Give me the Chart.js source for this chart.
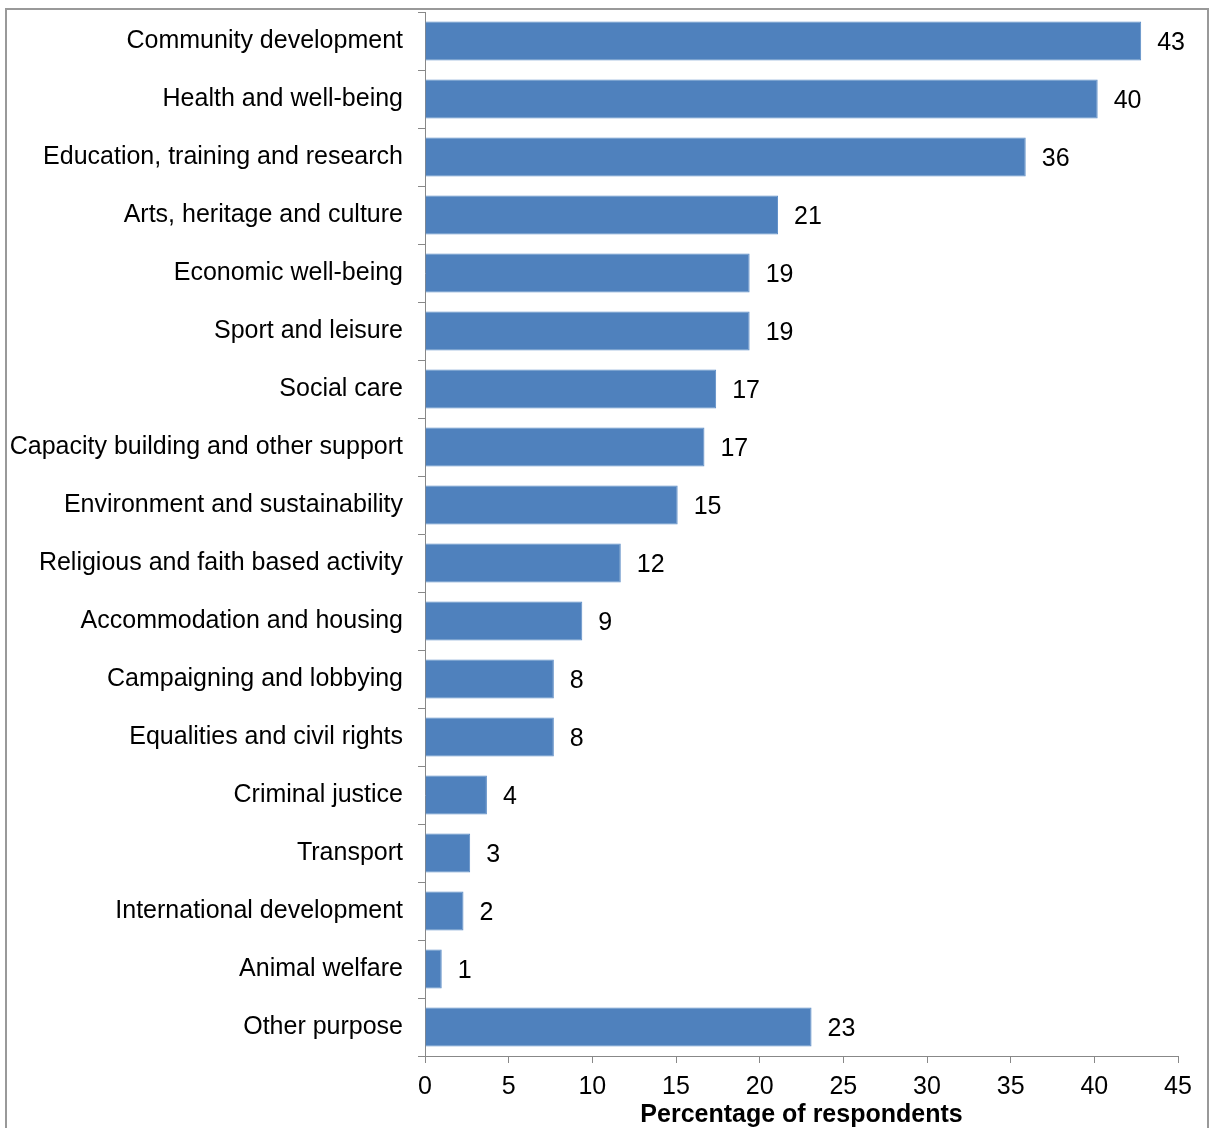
<!DOCTYPE html>
<html>
<head>
<meta charset="utf-8">
<script src="https://cdn.jsdelivr.net/npm/chart.js@4"></script>
<style>
  body { margin: 0; background: #fff; }
  #wrap { position: relative; width: 1213px; height: 1128px; overflow: hidden; }
  #frame { position: absolute; left: 5px; top: 8px; width: 1200px; height: 1200px; border: 2px solid #999; pointer-events: none; }
  canvas { position: absolute; left: 0; top: 0; }
</style>
</head>
<body>
<div id="wrap">
  <canvas id="purposeChart" width="1213" height="1128"></canvas>
  <div id="frame"></div>
</div>
<script>
const categories = [
  "Community development",
  "Health and well-being",
  "Education, training and research",
  "Arts, heritage and culture",
  "Economic well-being",
  "Sport and leisure",
  "Social care",
  "Capacity building and other support",
  "Environment and sustainability",
  "Religious and faith based activity",
  "Accommodation and housing",
  "Campaigning and lobbying",
  "Equalities and civil rights",
  "Criminal justice",
  "Transport",
  "International development",
  "Animal welfare",
  "Other purpose"
];
const percentages = [42.8, 40.2, 35.9, 21.1, 19.4, 19.4, 17.4, 16.7, 15.1, 11.7, 9.4, 7.7, 7.7, 3.7, 2.7, 2.3, 1.0, 23.1];
const xTicks = [0, 5, 10, 15, 20, 25, 30, 35, 40, 45];

const fontFamily = "'Liberation Sans', Arial, sans-serif";

// value labels to the right of each bar
const barLabels = {
  id: "barLabels",
  afterDatasetsDraw(chart) {
    const ctx = chart.ctx;
    const meta = chart.getDatasetMeta(0);
    ctx.save();
    ctx.font = "25px " + fontFamily;
    ctx.fillStyle = "#000";
    ctx.textAlign = "left";
    ctx.textBaseline = "middle";
    meta.data.forEach((bar, i) => {
      ctx.fillText(String(Math.round(percentages[i])), bar.x + 16, bar.y + 2);
    });
    ctx.restore();
  }
};

new Chart(document.getElementById("purposeChart").getContext("2d"), {
  type: "bar",
  data: {
    labels: categories,
    datasets: [{
      data: percentages,
      backgroundColor: "#4F81BD",
      borderColor: "#5B8CC6",
      borderWidth: 1,
      barPercentage: 0.67,
      categoryPercentage: 1
    }]
  },
  options: {
    indexAxis: "y",
    responsive: false,
    animation: false,
    layout: { padding: { top: 12, right: 35, left: 0, bottom: 0 } },
    plugins: {
      legend: { display: false },
      tooltip: { enabled: false }
    },
    scales: {
      x: {
        min: 0,
        max: 45,
        afterBuildTicks(scale) {
          scale.ticks = xTicks.map(v => ({ value: v }));
        },
        afterFit(scale) { scale.height = 72; },
        grid: {
          drawOnChartArea: false,
          drawTicks: true,
          tickLength: 7,
          color: "#888"
        },
        border: { display: true, color: "#888", width: 1 },
        ticks: {
          color: "#000",
          padding: 9,
          font: { family: fontFamily, size: 25 }
        },
        title: {
          display: true,
          text: "Percentage of respondents",
          color: "#000",
          padding: { top: 0, bottom: 0 },
          font: { family: fontFamily, size: 25, weight: "bold", lineHeight: 1 }
        }
      },
      y: {
        afterFit(scale) {
          scale.width = 425;
          scale.paddingTop = 0;
          scale.paddingBottom = 0;
        },
        grid: {
          offset: true,
          drawOnChartArea: false,
          drawTicks: true,
          tickLength: 7,
          color: "#888"
        },
        border: { display: true, color: "#888", width: 1 },
        ticks: {
          color: "#000",
          padding: 15,
          font: { family: fontFamily, size: 25 }
        }
      }
    }
  },
  plugins: [barLabels]
});
</script>
</body>
</html>
